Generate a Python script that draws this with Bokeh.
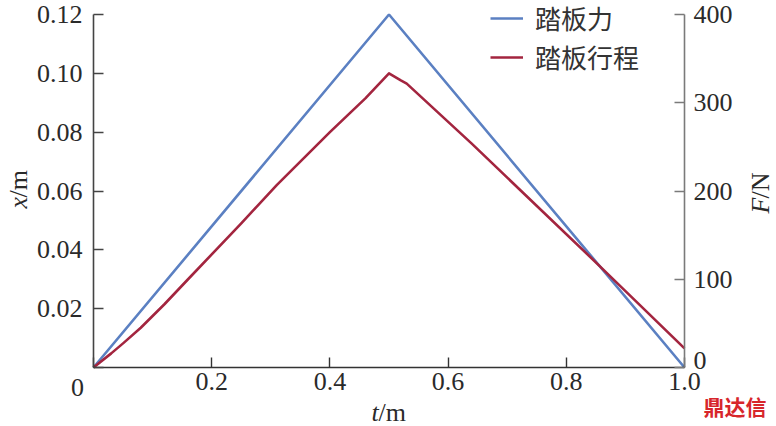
import math
from bokeh.plotting import figure
from bokeh.models import Range1d, LinearAxis, FixedTicker, Legend, LegendItem, Label
from bokeh.embed import file_html
from bokeh.resources import INLINE

# ---- data ----
t_force = [0.0, 0.5, 1.0]
force_N = [0, 400, 0]

t_travel = [0.0, 0.03, 0.05, 0.08, 0.12, 0.16, 0.25, 0.31, 0.40, 0.46, 0.50, 0.52, 0.53, 0.64, 0.86, 1.0]
travel_m = [0.0, 0.0048, 0.0082, 0.0135, 0.0215, 0.0300, 0.0490, 0.0620, 0.0800, 0.0915, 0.1000,
            0.0976, 0.0965, 0.0761, 0.0338, 0.0065]

x_ticks = [0, 0.2, 0.4, 0.6, 0.8, 1.0]
x_tick_labels = ["", "0.2", "0.4", "0.6", "0.8", "1.0"]
left_ticks = [0, 0.02, 0.04, 0.06, 0.08, 0.10, 0.12]
left_tick_labels = ["", "0.02", "0.04", "0.06", "0.08", "0.10", "0.12"]
right_ticks = [0, 100, 200, 300, 400]
right_tick_labels = ["", "100", "200", "300", "400"]

legend_force = "踏板力"
legend_travel = "踏板行程"

# ---- layout (pixels) ----
W, H = 776, 426
PL, PR, PT, PB = 93, 684, 14, 367   # plot box inside the canvas
X_MIN, X_MAX = 0.0, 1.0
Y_MIN, Y_MAX = 0.0, 0.12
F_MIN, F_MAX = 0.0, 400.0

xpp = (X_MAX - X_MIN) / (PR - PL)
ypp = (Y_MAX - Y_MIN) / (PB - PT)
fpp = (F_MAX - F_MIN) / (PB - PT)

BLUE = "#5b80c2"
RED = "#a3253f"
SERIF = "Liberation Serif"
CJK = "Noto Sans CJK SC"
FS = "26px"

p = figure(width=W, height=H, output_backend="svg", toolbar_location=None,
           x_range=Range1d(X_MIN - PL * xpp, X_MAX + (W - PR) * xpp),
           y_range=Range1d(Y_MIN - (H - PB) * ypp, Y_MAX + PT * ypp),
           min_border=0)
p.extra_y_ranges = {"force": Range1d(F_MIN - (H - PB) * fpp, F_MAX + PT * fpp)}
p.xgrid.grid_line_color = None
p.ygrid.grid_line_color = None
p.outline_line_color = None
p.background_fill_color = "white"
p.border_fill_color = "white"


def style_axis(ax, ticks, labels, standoff, color, loc, bounds):
    ax.fixed_location = loc
    ax.bounds = bounds
    ax.ticker = FixedTicker(ticks=ticks)
    ax.major_label_overrides = {tk: lb for tk, lb in zip(ticks, labels)}
    ax.major_tick_in = 10
    ax.major_tick_out = 0
    ax.minor_tick_line_color = None
    ax.major_label_standoff = standoff
    ax.major_label_text_font = SERIF
    ax.major_label_text_font_size = FS
    ax.major_label_text_color = "#2a2a2a"
    ax.axis_line_color = color
    ax.axis_line_width = 1.6
    ax.major_tick_line_color = color
    ax.major_tick_line_width = 1.4


style_axis(p.xaxis[0], x_ticks, x_tick_labels, 5, "#333333", Y_MIN, (X_MIN, X_MAX))
style_axis(p.yaxis[0], left_ticks, left_tick_labels, 11, "#444444", X_MIN, (Y_MIN, Y_MAX))

right_axis = LinearAxis(y_range_name="force")
style_axis(right_axis, right_ticks, right_tick_labels, 9, "#7a7a7a", X_MAX, (F_MIN, F_MAX))
p.add_layout(right_axis, "right")

r_force = p.line(t_force, force_N, y_range_name="force", line_color=BLUE, line_width=2.6)
r_travel = p.line(t_travel, travel_m, line_color=RED, line_width=2.6, line_join="round")

legend = Legend(items=[LegendItem(label=legend_force, renderers=[r_force]),
                       LegendItem(label=legend_travel, renderers=[r_travel])],
                location=(490, H - 75), padding=0, margin=0, spacing=2,
                glyph_width=33, glyph_height=34, label_height=34, label_standoff=12,
                label_text_font=CJK, label_text_font_size="26px", label_text_color="#333333",
                border_line_color=None, background_fill_alpha=0)
p.add_layout(legend)


def lab(text, x, y, dx, dy, italic=False, angle=0.0, align="left", font=SERIF, size=FS,
        color="#2a2a2a", bold=False):
    style = "italic" if italic else ("bold" if bold else "normal")
    p.add_layout(Label(x=x, y=y, x_offset=dx, y_offset=dy, text=text, angle=angle,
                       text_align=align, text_baseline="middle", text_font=font,
                       text_font_size=size, text_color=color, text_font_style=style))


# origin "0" and right-axis "0"
lab("0", X_MIN, Y_MIN, -16, -20, align="center")
lab("0", X_MAX, Y_MIN, 9, 7, align="left")

# axis titles
lab("x", X_MIN, Y_MIN, -75, 159, italic=True, angle=math.pi / 2)
lab("/m", X_MIN, Y_MIN, -75, 170, angle=math.pi / 2)
lab("F", X_MAX, Y_MIN, 76, 154, italic=True, angle=math.pi / 2)
lab("/N", X_MAX, Y_MIN, 76, 169, angle=math.pi / 2)
lab("t", X_MIN, Y_MIN, 278, -45, italic=True)
lab("/m", X_MIN, Y_MIN, 285, -45)

# watermark
lab("鼎达信", X_MIN, Y_MIN, 610, -38, font=CJK, size="21px", color="#d7262b", bold=True)

open("out.html", "w").write(file_html(p, INLINE))
